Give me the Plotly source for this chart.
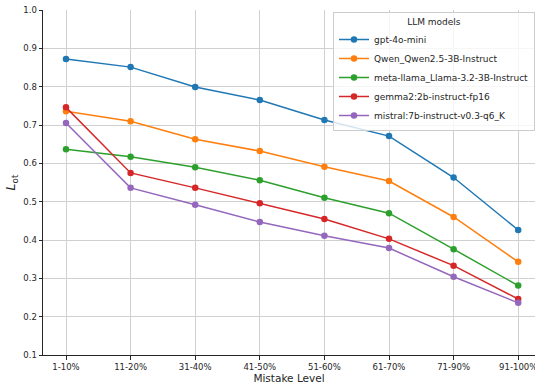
import plotly.graph_objects as go

levels = ["1-10%", "11-20%", "31-40%", "41-50%", "51-60%", "61-70%", "71-90%", "91-100%"]
gpt4o_mini = [0.872, 0.851, 0.799, 0.765, 0.713, 0.671, 0.563, 0.426]
qwen = [0.736, 0.710, 0.663, 0.632, 0.591, 0.554, 0.460, 0.343]
llama = [0.637, 0.617, 0.590, 0.556, 0.510, 0.470, 0.376, 0.281]
gemma = [0.746, 0.575, 0.536, 0.496, 0.455, 0.403, 0.333, 0.246]
mistral = [0.705, 0.536, 0.492, 0.447, 0.411, 0.379, 0.304, 0.236]

series = [
    ("gpt-4o-mini", gpt4o_mini, "#1f77b4"),
    ("Qwen_Qwen2.5-3B-Instruct", qwen, "#ff7f0e"),
    ("meta-llama_Llama-3.2-3B-Instruct", llama, "#2ca02c"),
    ("gemma2:2b-instruct-fp16", gemma, "#d62728"),
    ("mistral:7b-instruct-v0.3-q6_K", mistral, "#9467bd"),
]

fig = go.Figure()
for name, vals, col in series:
    fig.add_trace(go.Scatter(
        x=list(range(len(levels))), y=vals, name=name, mode="lines+markers",
        line=dict(color=col, width=1.5), marker=dict(color=col, size=6.5),
    ))

font = dict(family="DejaVu Sans", size=9, color="#262626")
fig.update_layout(
    width=535, height=385,
    margin=dict(l=43, r=0, t=10, b=30, autoexpand=False),
    paper_bgcolor="white", plot_bgcolor="white",
    font=font,
    showlegend=True,
    legend=dict(
        title=dict(text="LLM models", side="top center", font=dict(size=9)),
        x=1.0, y=0.993, xanchor="right", yanchor="top",
        bgcolor="rgba(255,255,255,0.8)", bordercolor="#cccccc", borderwidth=1,
        font=dict(size=9), tracegroupgap=0, itemwidth=30,
    ),
    xaxis=dict(
        tickmode="array", tickvals=list(range(len(levels))), ticktext=levels,
        range=[-0.356, 7.26], showgrid=True, gridcolor="#d0d0d0", gridwidth=1,
        showline=True, linecolor="#262626", linewidth=1, automargin=False,
        ticks="outside", ticklen=3.5, tickcolor="#262626", zeroline=False,
        ticklabeloverflow="allow",
        title=dict(text="Mistake Level", font=dict(size=10.5), standoff=3),
        tickfont=dict(size=8.5),
    ),
    yaxis=dict(
        range=[0.1, 1.0], dtick=0.1, tickformat=".1f", automargin=False,
        showgrid=True, gridcolor="#d0d0d0", gridwidth=1,
        showline=True, linecolor="#262626", linewidth=1,
        ticks="outside", ticklen=3.5, tickcolor="#262626", zeroline=False,
        title=dict(text="<i>L</i><sub>ot</sub>", font=dict(size=12.5), standoff=4),
        tickfont=dict(size=8.5),
    ),
)
fig.write_html("out.html", config={"displayModeBar": False},
               post_script="document.body.style.margin='0';document.body.style.overflow='hidden';")
